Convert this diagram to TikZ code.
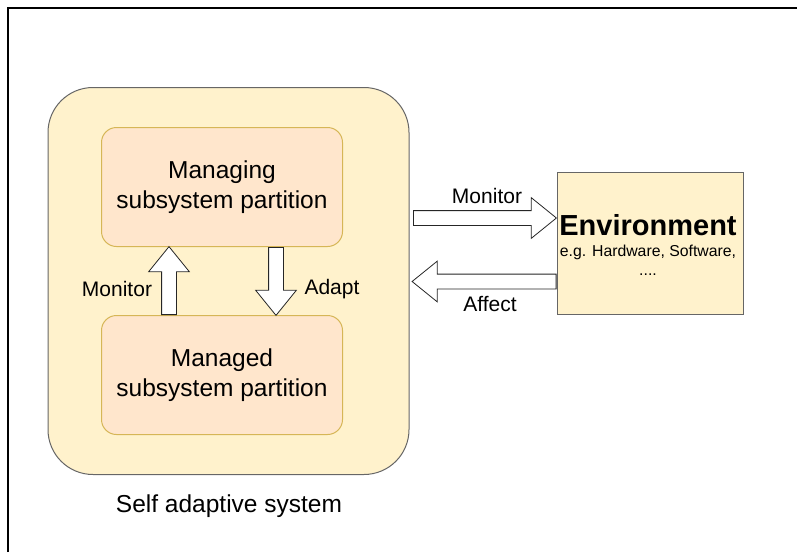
\documentclass[tikz,border=0pt]{standalone}
\usepackage{fontspec}
\setmainfont{Liberation Sans}
\usetikzlibrary{shapes.arrows}

\definecolor{sysfill}{HTML}{FFF2CC}
\definecolor{sysline}{HTML}{666666}
\definecolor{partfill}{HTML}{FFE6CC}
\definecolor{partline}{HTML}{D6B656}

\tikzset{
    partition/.style={rectangle, rounded corners=15pt, draw=partline, line width=1pt, fill=partfill, minimum width=241pt, minimum height=119pt, align=center, font=\fontsize{24.5}{30}\selectfont},
    blockarrow/.style={single arrow, draw=black!85, line width=0.8pt, fill=white, inner sep=0pt, single arrow head extend=13pt, single arrow tip angle=78, anchor=tail},
    hblockarrow/.style={blockarrow, inner ysep=7pt},
    vblockarrow/.style={blockarrow, inner xsep=7pt, minimum height=68pt},
    arrowlabel/.style={font=\fontsize{21}{25}\selectfont}
}

\begin{document}
\begin{tikzpicture}[x=1pt, y=-1pt]
        \useasboundingbox (0,0) rectangle (797,552);
        \draw[line width=1.5pt] (8,552) -- (8,8) -- (797,8);

        \node[rectangle, rounded corners=45pt, draw=sysline, line width=1pt, fill=sysfill, minimum width=361pt, minimum height=387pt] (system) at (228.5,281) {};
        \node[font=\fontsize{24.5}{30}\selectfont] (systemlabel) at (229,506) {Self adaptive system};

        \node[partition] (managing) at (222,187) {Managing\\subsystem partition};
        \node[partition] (managed) at (222,375) {Managed\\subsystem partition};

        \node[rectangle, draw=sysline, line width=1pt, fill=sysfill, minimum width=186pt, minimum height=142pt, align=center] (env) at (650,243) {};
        \node[font=\fontsize{29}{34}\selectfont\bfseries] (envtitle) at (648,225) {Environment};
        \node[font=\fontsize{15.8}{19}\selectfont, align=center, anchor=north] (envsub) at (648,242) {e.g. Hardware, Software,\\....};

        % Add inner arrows
        \node[vblockarrow, shape border rotate=90] (monitorup) at ([xshift=-53pt]managed.north) {};
        \node[vblockarrow, shape border rotate=270] (adaptdown) at ([xshift=54pt]managing.south) {};
        \node[arrowlabel] (monitorlabel) at (117,289) {Monitor};
        \node[arrowlabel] (adaptlabel) at (332,289) {Adapt};

        % Add environment arrows
        \node[hblockarrow, minimum height=143pt] (monitorright) at ([xshift=3.5pt, yshift=63pt]system.east) {};
        \node[hblockarrow, minimum height=144pt, shape border rotate=180] (affectleft) at ([yshift=-38.5pt]env.west) {};
        \node[arrowlabel] (monitorrlabel) at (487,196) {Monitor};
        \node[arrowlabel] (affectlabel) at (490,304) {Affect};
    \end{tikzpicture}
\end{document}
